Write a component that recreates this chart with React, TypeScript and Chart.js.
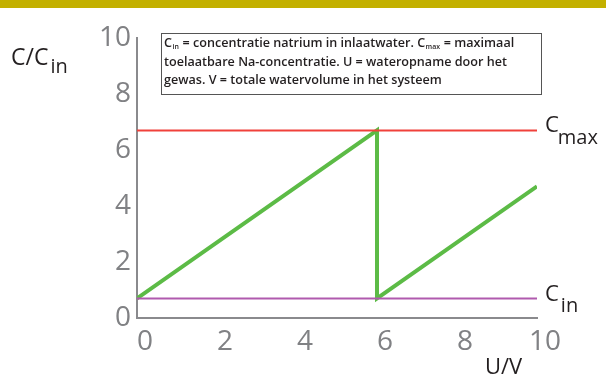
import React, { useEffect, useRef } from "react";
import { Chart, registerables } from "chart.js";

Chart.register(...registerables);

// ---- data ----
const uValues = [0, 6, 6, 10];
const concValues = [0.7, 6.7, 0.7, 4.7];
const cMax = 6.7;
const cIn = 0.7;
const xMin = 0;
const xMax = 10;
const yMin = 0;
const yMax = 10;
const tickStep = 2;
const noteLines = [
  "C_{in} = concentratie natrium in inlaatwater. C_{max} = maximaal",
  "toelaatbare Na-concentratie. U = wateropname door het",
  "gewas. V = totale watervolume in het systeem",
];
const yTitle = ["C/C", "in"];
const xTitle = "U/V";
const maxLabel = ["C", "max"];
const inLabel = ["C", "in"];

const FONT = '"Open Sans", "DejaVu Sans", sans-serif';

function drawRich(ctx: CanvasRenderingContext2D, text: string, x: number, y: number, size: number, weight: string) {
  const parts = text.split(/(_\{[^}]*\})/);
  let cx = x;
  for (const p of parts) {
    if (!p) continue;
    if (p.startsWith("_{")) {
      const s = p.slice(2, -1);
      ctx.font = `${weight} ${size * 0.55}px ${FONT}`;
      ctx.fillText(s, cx + 0.5, y + 2);
      cx += ctx.measureText(s).width + 1;
    } else {
      ctx.font = `${weight} ${size}px ${FONT}`;
      ctx.fillText(p, cx, y);
      cx += ctx.measureText(p).width;
    }
  }
}

const annotPlugin = {
  id: "annot",
  beforeDraw(chart: any) {
    const ctx = chart.ctx as CanvasRenderingContext2D;
    ctx.save();
    ctx.fillStyle = "#ffffff";
    ctx.fillRect(0, 0, chart.width, chart.height);
    ctx.fillStyle = "#c3b000";
    ctx.fillRect(0, 0, chart.width, 8);
    ctx.restore();
  },
  afterDraw(chart: any) {
    const ctx = chart.ctx as CanvasRenderingContext2D;
    const xs = chart.scales.x;
    const ys = chart.scales.y;
    ctx.save();
    ctx.fillStyle = "#231f20";
    ctx.textBaseline = "alphabetic";
    ctx.textAlign = "left";

    // Cmax label
    const xr = xs.getPixelForValue(xMax);
    const ymaxPix = ys.getPixelForValue(cMax);
    ctx.font = `400 22px ${FONT}`;
    ctx.fillText(maxLabel[0], xr + 8, ymaxPix + 2);
    let w = ctx.measureText(maxLabel[0]).width;
    ctx.font = `400 20px ${FONT}`;
    ctx.fillText(maxLabel[1], xr + 8 + w - 1, ymaxPix + 14);

    // Cin label
    const yinPix = ys.getPixelForValue(cIn);
    ctx.font = `400 22px ${FONT}`;
    ctx.fillText(inLabel[0], xr + 8, yinPix + 3);
    w = ctx.measureText(inLabel[0]).width;
    ctx.font = `400 20px ${FONT}`;
    ctx.fillText(inLabel[1], xr + 8 + w + 2, yinPix + 14);

    // y title
    ctx.font = `400 23px ${FONT}`;
    ctx.fillText(yTitle[0], 11, 65);
    w = ctx.measureText(yTitle[0]).width;
    ctx.font = `400 20px ${FONT}`;
    ctx.fillText(yTitle[1], 11 + w + 2, 73);

    // x title
    ctx.font = `400 22px ${FONT}`;
    ctx.fillText(xTitle, 485, 374);

    // note box
    ctx.fillStyle = "#ffffff";
    ctx.fillRect(161, 33, 381, 62);
    ctx.strokeStyle = "#555555";
    ctx.lineWidth = 1;
    ctx.strokeRect(161.5, 33.5, 380, 61);
    ctx.fillStyle = "#231f20";
    noteLines.forEach((line, i) => {
      drawRich(ctx, line, 164, 47 + i * 18.5, 12.6, "600");
    });
    ctx.restore();
  },
};

export default function App() {
  const ref = useRef<HTMLCanvasElement | null>(null);
  useEffect(() => {
    if (!ref.current) return;
    const pts = uValues.map((u, i) => ({ x: u, y: concValues[i] }));
    const chart = new Chart(ref.current, {
      type: "line",
      data: {
        datasets: [
          {
            data: [{ x: xMin, y: cMax }, { x: xMax, y: cMax }],
            borderColor: "#f0413b",
            borderWidth: 2,
            pointRadius: 0,
          },
          {
            data: [{ x: xMin, y: cIn }, { x: xMax, y: cIn }],
            borderColor: "#b05aae",
            borderWidth: 2,
            pointRadius: 0,
          },
          {
            data: pts,
            borderColor: "#5cbb46",
            borderWidth: 4,
            pointRadius: 0,
            borderJoinStyle: "miter",
          },
        ],
      },
      options: {
        animation: false,
        responsive: false,
        events: [],
        layout: { padding: { left: 0, right: 69, top: 38, bottom: 0 } },
        plugins: { legend: { display: false }, tooltip: { enabled: false } },
        scales: {
          x: {
            type: "linear",
            min: xMin,
            max: xMax,
            grid: { display: false, drawTicks: false },
            border: { display: true, color: "#8a8a8d", width: 2 },
            ticks: {
              stepSize: tickStep,
              padding: 7,
              labelOffset: 8,
              color: "#808184",
              font: { family: FONT, size: 28, weight: "400" },
            },
            afterFit: (s: any) => {
              s.height = 56;
            },
          },
          y: {
            type: "linear",
            min: yMin,
            max: yMax,
            grid: { display: false, drawTicks: false },
            border: { display: true, color: "#8a8a8d", width: 2 },
            ticks: {
              stepSize: tickStep,
              padding: 6,
              color: "#808184",
              font: { family: FONT, size: 28, weight: "400" },
            },
            afterFit: (s: any) => {
              s.width = 137;
            },
          },
        },
      },
      plugins: [annotPlugin],
    });
    return () => chart.destroy();
  }, []);
  return (
    <div style={{ position: "absolute", left: 0, top: 0, width: 606, height: 374 }}>
      <canvas ref={ref} width={606} height={374} />
    </div>
  );
}
